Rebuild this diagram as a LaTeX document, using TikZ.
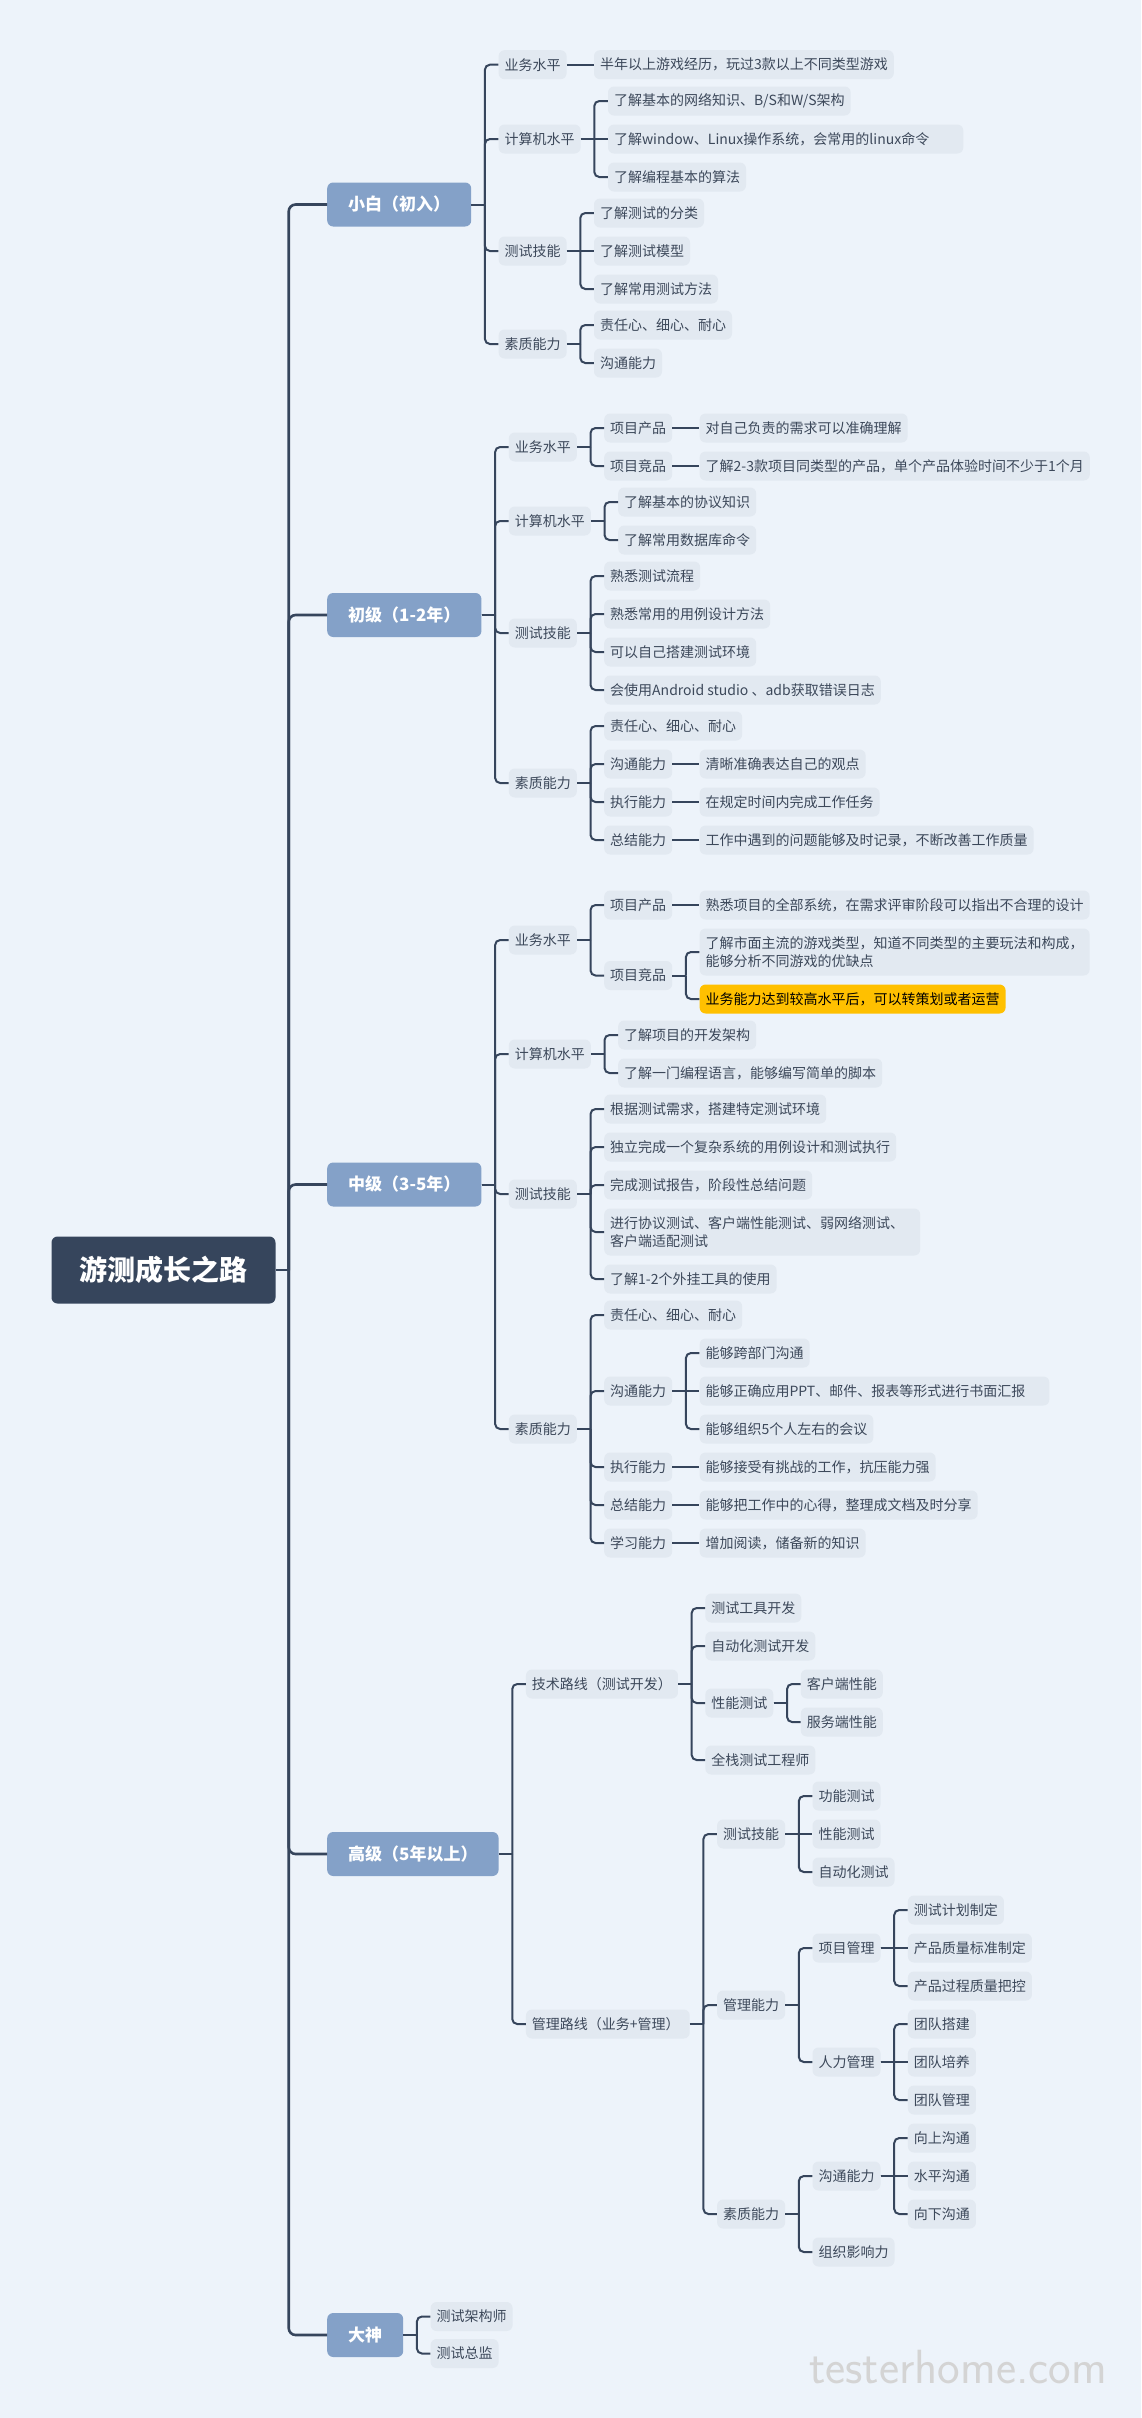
\documentclass[tikz,border=0pt]{standalone}
\usepackage{fontspec}
\setmainfont{Noto Sans CJK SC}
\usetikzlibrary{calc}
\definecolor{bg}{RGB}{237,243,250}
\definecolor{rootc}{RGB}{54,69,92}
\definecolor{lvlc}{RGB}{132,161,200}
\definecolor{boxc}{RGB}{226,233,241}
\definecolor{linec}{RGB}{54,69,92}
\definecolor{txtc}{RGB}{60,72,90}
\definecolor{orangec}{RGB}{255,192,0}
\definecolor{wmc}{RGB}{212,212,212}
\tikzset{
  rootbox/.style={fill=rootc, text=white, rounded corners=6pt, inner xsep=28pt, inner ysep=0pt, minimum height=67pt, font=\fontsize{28}{30}\selectfont\bfseries},
  lvlbox/.style={fill=lvlc, text=white, rounded corners=6pt, inner xsep=21pt, inner ysep=0pt, minimum height=44pt, font=\fontsize{17}{18}\selectfont\bfseries},
  item/.style={fill=boxc, text=txtc, rounded corners=6pt, inner xsep=6pt, inner ysep=0pt, minimum height=29pt, font=\fontsize{14}{18}\selectfont},
  itemtwo/.style={item, align=left, minimum height=47pt},
  hl/.style={item, fill=orangec, text=black},
  conn/.style={draw=linec, line width=2pt},
  trunk/.style={draw=linec, line width=2.6pt},
}
% child off the parent's axis
\newcommand\kid[5]{%
  \path (#1.east) ++(27,0) coordinate (kidx) (0,#3) coordinate (kidy);
  \node[#4, anchor=west] (#2) at (kidx |- kidy) {#5};
  \draw[conn] (#1.east) -- ++(13.5,0) coordinate (#2b);
  \draw[conn, rounded corners=5pt] (#2b) |- (#2.west);
}
% child on the parent's axis
\newcommand\kidc[4]{%
  \path (#1.east) ++(27,0) coordinate (kidx);
  \node[#3, anchor=west] (#2) at (kidx) {#4};
  \draw[conn] (#1.east) -- (#2.west);
}
\begin{document}
\begin{tikzpicture}[x=1pt, y=-1pt]
\fill[bg] (0,0) rectangle (1141,2418);
\useasboundingbox (0,0) rectangle (1141,2418);

% root and levels
\node[rootbox] (r) at (163.5,1270) {游测成长之路};
\node[lvlbox, anchor=west] (L1) at (327,204.5) {小白（初入）};
\node[lvlbox, anchor=west] (L2) at (327,615) {初级（1-2年）};
\node[lvlbox, anchor=west] (L3) at (327,1184.5) {中级（3-5年）};
\node[lvlbox, anchor=west] (L4) at (327,1854) {高级（5年以上）};
\node[lvlbox, anchor=west] (L5) at (327,2335) {大神};
\draw[trunk] (r.east) -- ++(13,0) coordinate (tr);
\foreach \l in {L1,L2,L3,L4,L5}
  \draw[trunk, rounded corners=7pt] (tr) |- (\l.west);

% ---------- 小白 ----------
\kid{L1}{a1}{64.7}{item}{业务水平}
\kidc{a1}{a11}{item}{半年以上游戏经历，玩过3款以上不同类型游戏}
\kid{L1}{a2}{139}{item}{计算机水平}
\kid{a2}{a21}{101}{item}{了解基本的网络知识、B/S和W/S架构}
\kidc{a2}{a22}{item}{了解window、Linux操作系统，会常用的linux命令\hspace*{28pt}}
\kid{a2}{a23}{177}{item}{了解编程基本的算法}
\kid{L1}{a3}{251}{item}{测试技能}
\kid{a3}{a31}{213}{item}{了解测试的分类}
\kidc{a3}{a32}{item}{了解测试模型}
\kid{a3}{a33}{289}{item}{了解常用测试方法}
\kid{L1}{a4}{344}{item}{素质能力}
\kid{a4}{a41}{325}{item}{责任心、细心、耐心}
\kid{a4}{a42}{363}{item}{沟通能力}

% ---------- 初级 ----------
\kid{L2}{b1}{447}{item}{业务水平}
\kid{b1}{b11}{428}{item}{项目产品}
\kidc{b11}{b111}{item}{对自己负责的需求可以准确理解}
\kid{b1}{b12}{466}{item}{项目竞品}
\kidc{b12}{b121}{item}{了解2-3款项目同类型的产品，单个产品体验时间不少于1个月}
\kid{L2}{b2}{521}{item}{计算机水平}
\kid{b2}{b21}{502}{item}{了解基本的协议知识}
\kid{b2}{b22}{540}{item}{了解常用数据库命令}
\kid{L2}{b3}{633}{item}{测试技能}
\kid{b3}{b31}{576}{item}{熟悉测试流程}
\kid{b3}{b32}{614}{item}{熟悉常用的用例设计方法}
\kid{b3}{b33}{652}{item}{可以自己搭建测试环境}
\kid{b3}{b34}{690}{item}{会使用Android studio 、adb获取错误日志}
\kid{L2}{b4}{783}{item}{素质能力}
\kid{b4}{b41}{726}{item}{责任心、细心、耐心}
\kid{b4}{b42}{764}{item}{沟通能力}
\kidc{b42}{b421}{item}{清晰准确表达自己的观点}
\kid{b4}{b43}{802}{item}{执行能力}
\kidc{b43}{b431}{item}{在规定时间内完成工作任务}
\kid{b4}{b44}{840}{item}{总结能力}
\kidc{b44}{b441}{item}{工作中遇到的问题能够及时记录，不断改善工作质量}

% ---------- 中级 ----------
\kid{L3}{c1}{940}{item}{业务水平}
\kid{c1}{c11}{905}{item}{项目产品}
\kidc{c11}{c111}{item}{熟悉项目的全部系统，在需求评审阶段可以指出不合理的设计}
\kid{c1}{c12}{975.5}{item}{项目竞品}
\kid{c12}{c121}{952}{itemtwo}{了解市面主流的游戏类型，知道不同类型的主要玩法和构成，\\能够分析不同游戏的优缺点}
\kid{c12}{c122}{999}{hl}{业务能力达到较高水平后，可以转策划或者运营}
\kid{L3}{c2}{1054}{item}{计算机水平}
\kid{c2}{c21}{1035}{item}{了解项目的开发架构}
\kid{c2}{c22}{1073}{item}{了解一门编程语言，能够编写简单的脚本}
\kid{L3}{c3}{1194}{item}{测试技能}
\kid{c3}{c31}{1109}{item}{根据测试需求，搭建特定测试环境}
\kid{c3}{c32}{1147}{item}{独立完成一个复杂系统的用例设计和测试执行}
\kid{c3}{c33}{1185}{item}{完成测试报告，阶段性总结问题}
\kid{c3}{c34}{1232}{itemtwo}{进行协议测试、客户端性能测试、弱网络测试、\hspace*{10pt}\\客户端适配测试}
\kid{c3}{c35}{1279}{item}{了解1-2个外挂工具的使用}
\kid{L3}{c4}{1429}{item}{素质能力}
\kid{c4}{c41}{1315}{item}{责任心、细心、耐心}
\kid{c4}{c42}{1391}{item}{沟通能力}
\kid{c42}{c421}{1353}{item}{能够跨部门沟通}
\kidc{c42}{c422}{item}{能够正确应用PPT、邮件、报表等形式进行书面汇报\hspace*{18pt}}
\kid{c42}{c423}{1429}{item}{能够组织5个人左右的会议}
\kid{c4}{c43}{1467}{item}{执行能力}
\kidc{c43}{c431}{item}{能够接受有挑战的工作，抗压能力强}
\kid{c4}{c44}{1505}{item}{总结能力}
\kidc{c44}{c441}{item}{能够把工作中的心得，整理成文档及时分享}
\kid{c4}{c45}{1543}{item}{学习能力}
\kidc{c45}{c451}{item}{增加阅读，储备新的知识}

% ---------- 高级 ----------
\kid{L4}{d1}{1684}{item}{技术路线（测试开发）}
\kid{d1}{d11}{1608}{item}{测试工具开发}
\kid{d1}{d12}{1646}{item}{自动化测试开发}
\kid{d1}{d13}{1703}{item}{性能测试}
\kid{d13}{d131}{1684}{item}{客户端性能}
\kid{d13}{d132}{1722}{item}{服务端性能}
\kid{d1}{d14}{1760}{item}{全栈测试工程师}
\kid{L4}{d2}{2024}{item}{管理路线（业务+管理）\hspace*{4pt}}
\kid{d2}{d21}{1834}{item}{测试技能}
\kid{d21}{d211}{1796}{item}{功能测试}
\kidc{d21}{d212}{item}{性能测试}
\kid{d21}{d213}{1872}{item}{自动化测试}
\kid{d2}{d22}{2005}{item}{管理能力}
\kid{d22}{d221}{1948}{item}{项目管理}
\kid{d221}{d2211}{1910}{item}{测试计划制定}
\kidc{d221}{d2212}{item}{产品质量标准制定}
\kid{d221}{d2213}{1986}{item}{产品过程质量把控}
\kid{d22}{d222}{2062}{item}{人力管理}
\kid{d222}{d2221}{2024}{item}{团队搭建}
\kidc{d222}{d2222}{item}{团队培养}
\kid{d222}{d2223}{2100}{item}{团队管理}
\kid{d2}{d23}{2214}{item}{素质能力}
\kid{d23}{d231}{2176}{item}{沟通能力}
\kid{d231}{d2311}{2138}{item}{向上沟通}
\kidc{d231}{d2312}{item}{水平沟通}
\kid{d231}{d2313}{2214}{item}{向下沟通}
\kid{d23}{d232}{2252}{item}{组织影响力}

% ---------- 大神 ----------
\kid{L5}{e1}{2316.5}{item}{测试架构师}
\kid{L5}{e2}{2353.5}{item}{测试总监}

% watermark
\node[anchor=base west, inner sep=0pt, text=wmc, font=\sffamily\fontsize{48}{50}\selectfont] (wm) at (809,2383) {testerhome.com};
\end{tikzpicture}
\end{document}
